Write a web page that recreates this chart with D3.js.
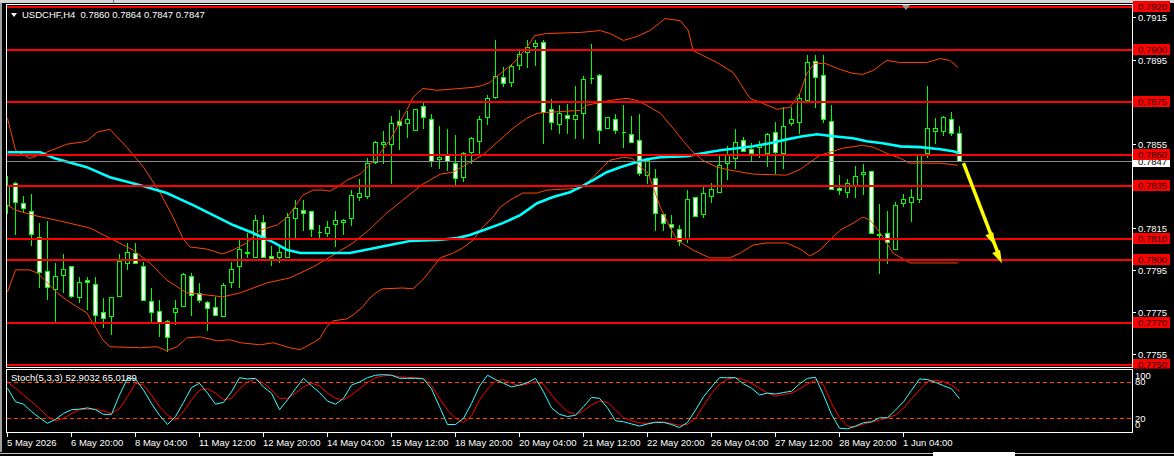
<!DOCTYPE html>
<html><head><meta charset="utf-8">
<script src="https://cdn.jsdelivr.net/npm/d3@7"></script>
<style>html,body{margin:0;padding:0;background:#000;overflow:hidden}svg{display:block}text{font-family:"Liberation Sans",Arial,sans-serif;font-size:9.5px}</style>
</head><body>
<svg id="c" width="1174" height="456"></svg>
<script>
// ---------- DATA ----------
const symbolTitle = "USDCHF,H4  0.7860 0.7864 0.7847 0.7847";
const stochTitle = "Stoch(5,3,3) 52.9032 65.0189";
const opens = [0.78261,0.78365,0.78270,0.78232,0.78109,0.77943,0.77858,0.77924,0.77967,0.77820,
0.77901,0.77882,0.77749,0.77730,0.77825,0.77981,0.78029,0.77967,0.77801,0.77754,
0.77706,0.77749,0.77777,0.77920,0.77839,0.77796,0.77773,0.77730,0.77891,0.77967,
0.78029,0.78014,0.78180,0.78019,0.78010,0.78010,0.78199,0.78237,0.78232,0.78133,
0.78128,0.78171,0.78180,0.78199,0.78299,0.78303,0.78464,0.78550,0.78550,0.78659,
0.78649,0.78616,0.78730,0.78668,0.78479,0.78498,0.78460,0.78393,0.78512,0.78564,
0.78678,0.78773,0.78867,0.78844,0.78924,0.78986,0.79014,0.79033,0.78716,0.78645,
0.78687,0.78668,0.78697,0.78863,0.78877,0.78626,0.78668,0.78607,0.78597,0.78569,
0.78403,0.78389,0.78218,0.78171,0.78147,0.78104,0.78299,0.78218,0.78303,0.78322,
0.78460,0.78483,0.78569,0.78526,0.78536,0.78507,0.78607,0.78507,0.78649,0.78654,
0.78758,0.78943,0.78877,0.78659,0.78341,0.78322,0.78355,0.78408,0.78422,0.78119,
0.78128,0.78048,0.78270,0.78275,0.78289,0.78507,0.78611,0.78611,0.78668,0.78600];
const highs = [0.78403,0.78374,0.78308,0.78318,0.78180,0.78190,0.77986,0.78029,0.77967,0.77920,
0.77920,0.77920,0.77820,0.77820,0.78029,0.78081,0.78081,0.77995,0.77867,0.77811,
0.77716,0.77811,0.77939,0.77939,0.77891,0.77806,0.77825,0.77891,0.77991,0.78104,
0.78133,0.78218,0.78218,0.78071,0.78062,0.78228,0.78289,0.78289,0.78232,0.78171,
0.78190,0.78237,0.78199,0.78337,0.78389,0.78488,0.78569,0.78616,0.78687,0.78716,
0.78711,0.78716,0.78758,0.78697,0.78640,0.78626,0.78597,0.78517,0.78588,0.78687,
0.78787,0.79047,0.78919,0.78934,0.78995,0.79047,0.79047,0.79047,0.78768,0.78739,
0.78744,0.78829,0.78877,0.79028,0.78886,0.78678,0.78697,0.78739,0.78687,0.78697,
0.78488,0.78436,0.78223,0.78218,0.78171,0.78337,0.78299,0.78360,0.78370,0.78507,
0.78545,0.78626,0.78588,0.78559,0.78569,0.78607,0.78659,0.78730,0.78730,0.78792,
0.78976,0.78976,0.78976,0.78739,0.78408,0.78389,0.78450,0.78460,0.78422,0.78270,
0.78237,0.78280,0.78318,0.78341,0.78498,0.78829,0.78678,0.78687,0.78706,0.78640];
const lows = [0.78223,0.78119,0.78228,0.78071,0.77867,0.77811,0.77706,0.77844,0.77820,0.77796,
0.77763,0.77706,0.77678,0.77645,0.77825,0.77953,0.77981,0.77806,0.77706,0.77635,
0.77564,0.77692,0.77777,0.77735,0.77796,0.77664,0.77735,0.77730,0.77867,0.77867,
0.78014,0.78014,0.78010,0.77976,0.77986,0.78010,0.78104,0.78142,0.78114,0.78104,
0.78114,0.78066,0.78123,0.78166,0.78284,0.78294,0.78460,0.78460,0.78365,0.78526,
0.78583,0.78616,0.78626,0.78446,0.78436,0.78427,0.78360,0.78374,0.78460,0.78502,
0.78645,0.78768,0.78825,0.78825,0.78905,0.78915,0.78924,0.78555,0.78621,0.78602,
0.78602,0.78578,0.78578,0.78839,0.78555,0.78626,0.78602,0.78536,0.78559,0.78403,
0.78365,0.78142,0.78142,0.78109,0.78071,0.78085,0.78209,0.78204,0.78275,0.78322,
0.78384,0.78436,0.78517,0.78474,0.78488,0.78446,0.78412,0.78436,0.78640,0.78602,
0.78758,0.78725,0.78654,0.78337,0.78313,0.78299,0.78299,0.78313,0.78128,0.77938,
0.77981,0.78048,0.78256,0.78185,0.78275,0.78488,0.78555,0.78592,0.78592,0.78470];
const closes = [0.78356,0.78275,0.78246,0.78119,0.77939,0.77867,0.77920,0.77957,0.77825,0.77891,
0.77891,0.77735,0.77720,0.77820,0.77991,0.78038,0.77981,0.77806,0.77749,0.77702,
0.77630,0.77768,0.77929,0.77830,0.77806,0.77768,0.77735,0.77877,0.77957,0.78048,
0.78038,0.78190,0.78010,0.78005,0.78038,0.78204,0.78246,0.78223,0.78147,0.78130,
0.78156,0.78190,0.78190,0.78308,0.78318,0.78460,0.78559,0.78559,0.78649,0.78640,
0.78668,0.78716,0.78678,0.78469,0.78488,0.78469,0.78389,0.78507,0.78578,0.78668,
0.78768,0.78872,0.78839,0.78919,0.78976,0.79009,0.79028,0.78701,0.78654,0.78697,
0.78673,0.78687,0.78858,0.78860,0.78616,0.78678,0.78616,0.78604,0.78559,0.78412,
0.78474,0.78223,0.78175,0.78156,0.78090,0.78289,0.78209,0.78318,0.78337,0.78450,
0.78498,0.78559,0.78517,0.78507,0.78545,0.78597,0.78512,0.78635,0.78668,0.78768,
0.78938,0.78867,0.78668,0.78337,0.78332,0.78365,0.78398,0.78417,0.78128,0.78116,
0.78081,0.78261,0.78289,0.78299,0.78498,0.78626,0.78626,0.78678,0.78602,0.78470];

// Bollinger bands & moving average, read at bar positions (bar index, price)
const upperBars = [0,1,2.8,4.9,7.4,9.9,11.2,12.8,14.9,17,19.1,20.7,21.9,22.8,24.9,26.9,28.2,29.9,31.6,33.7,35,36.9,38.2,39.4,40.3,41.6,42.4,44.1,46.2,47.8,49.9,50.7,51.9,53.7,56.6,58.2,59.4,60.3,61.6,63.2,64.9,65.9,67.4,71.6,74.1,75.3,77,78.7,80.3,82.2,84.1,85.1,85.7,86.9,88.7,90.7,91.6,92.8,94.4,96.2,97.8,99.1,99.9,100.9,102.2,104.1,105.7,106.9,108.2,109.9,111.6,114.9,116.6,117.8,118.8];
const upperVals = [0.78673,0.78521,0.78483,0.78512,0.78550,0.78564,0.78607,0.78621,0.78536,0.78441,0.78318,0.78204,0.78104,0.78062,0.78052,0.78029,0.78048,0.78081,0.78142,0.78166,0.78204,0.78308,0.78332,0.78332,0.78327,0.78355,0.78379,0.78408,0.78488,0.78569,0.78711,0.78773,0.78815,0.78806,0.78815,0.78820,0.78829,0.78844,0.78886,0.78934,0.79009,0.79066,0.79076,0.79081,0.79090,0.79076,0.79043,0.79062,0.79090,0.79147,0.79137,0.79090,0.78995,0.78972,0.78938,0.78891,0.78839,0.78768,0.78744,0.78716,0.78725,0.78796,0.78886,0.78934,0.78934,0.78905,0.78886,0.78882,0.78900,0.78948,0.78938,0.78938,0.78957,0.78948,0.78915];
const middleBars = [0,1,3.2,6.6,10.3,12.8,15.7,17.8,19.9,22.4,24.9,26.9,29.1,32.4,35.3,38.2,40.3,43.2,45.3,47.4,49.4,51.9,54.1,55.7,57.8,59.4,61.2,63.2,64.9,66.2,67.4,71.6,72.4,75.3,77.4,78.7,79.9,81.6,83.2,84.4,85.7,86.9,88.7,90.3,93.2,97.4,99.1,100.3,101.6,102.8,104.4,106.9,108.2,109.9,111.6,112.8,116.6,118.8];
const middleVals = [0.78261,0.78237,0.78213,0.78185,0.78152,0.78104,0.78047,0.77986,0.77905,0.77844,0.77834,0.77825,0.77844,0.77891,0.77915,0.77967,0.78014,0.78081,0.78147,0.78223,0.78284,0.78360,0.78408,0.78417,0.78464,0.78498,0.78559,0.78626,0.78673,0.78697,0.78701,0.78711,0.78735,0.78758,0.78768,0.78758,0.78735,0.78697,0.78626,0.78569,0.78512,0.78474,0.78441,0.78427,0.78408,0.78403,0.78431,0.78464,0.78498,0.78512,0.78531,0.78545,0.78536,0.78507,0.78483,0.78460,0.78460,0.78450];
const lowerBars = [0,1,2.8,3.7,4.9,6.2,7.4,8.7,9.9,11.2,11.9,12.8,16.6,18.7,19.9,21.2,22.4,24.1,26.2,27.8,29.1,31.6,33.2,35.3,36.6,38.2,39.1,39.9,40.7,42.4,43.2,44.4,45.3,46.2,46.9,49.4,50.7,51.9,53.2,54.1,55.7,56.9,58.2,59.4,60.7,61.6,62.8,64.4,66.2,67.4,71.6,72.4,73.2,74.4,75.3,77,78.1,79.1,80.1,80.7,81.6,82.8,83.7,85.7,87.8,90.3,91.6,93.2,94.9,97.4,99.1,100.3,101.6,102.8,104.1,105.7,106.9,107.8,109.1,110.7,112.8,118.8];
const lowerVals = [0.77848,0.77953,0.77953,0.77938,0.77896,0.77844,0.77810,0.77777,0.77749,0.77668,0.77621,0.77588,0.77583,0.77588,0.77569,0.77588,0.77630,0.77635,0.77616,0.77621,0.77607,0.77597,0.77607,0.77583,0.77574,0.77607,0.77630,0.77683,0.77711,0.77720,0.77739,0.77777,0.77820,0.77848,0.77863,0.77867,0.77863,0.77905,0.77967,0.78010,0.78033,0.78057,0.78095,0.78156,0.78204,0.78251,0.78284,0.78318,0.78318,0.78332,0.78341,0.78365,0.78393,0.78441,0.78474,0.78488,0.78483,0.78441,0.78412,0.78346,0.78251,0.78156,0.78095,0.78047,0.78010,0.78010,0.78033,0.78071,0.78081,0.78081,0.78052,0.78019,0.78048,0.78095,0.78142,0.78175,0.78204,0.78190,0.78128,0.78033,0.77986,0.77986];
const maBars = [0,4.1,5.9,9.9,12.8,16.6,19.9,23.2,25.7,28.2,30.7,33.2,35,36.6,42.8,45.3,47.8,50.3,53.7,56.2,57.8,59.9,61.9,64.1,66.2,68.2,70.3,71.6,73.2,74.9,76.6,78.2,79.9,81.6,84.9,86.9,89.1,91.2,93.2,95.3,97.4,99.4,101.2,103.2,105.7,107.4,109.4,111.6,114.1,116.6,118.2,119];
const maVals = [0.78512,0.78512,0.78483,0.78441,0.78393,0.78355,0.78318,0.78261,0.78213,0.78166,0.78128,0.78085,0.78047,0.78033,0.78033,0.78052,0.78071,0.78090,0.78095,0.78104,0.78119,0.78147,0.78175,0.78213,0.78270,0.78299,0.78322,0.78346,0.78379,0.78417,0.78441,0.78460,0.78479,0.78488,0.78493,0.78507,0.78521,0.78531,0.78540,0.78555,0.78573,0.78588,0.78597,0.78588,0.78578,0.78564,0.78555,0.78540,0.78536,0.78526,0.78517,0.78507];

// Stochastic (5,3,3)
const stochK = [70,48,44,32,22,13,19.5,29,35,36, 38,35,27.5,27.5,59,86,85,67,45,26,
11,24,47,71,78,62,44,47,64,87, 85,86,72,62,35,51,69,86,74,63,
49,44,53.5,75,80,87,91,92,91,86, 86,86,85,69,40,11,11,21,45,73.5,
91,84,78,72,75,79,86,64,38,27.5, 24,26,40,55,53.5,38,17,15.5,12,8.5,
12,14.5,14.5,11,6,14.5,34.5,56,72,87, 87,87,77,70,59,62,60.5,63,65,77,
86,87.5,59,27.5,5,4,8.5,14,15.5,22, 22,34.5,48,66.5,85,84,79.5,74,69,52.9032];
const stochD = [80,70,59,48,37,24,17,21,29,35, 36,36,33,29,37,56,78,75,59,40,
26,18,32,51,67,69,62,51,53.5,69, 80,85,78,67,53.5,53.5,62,72,78,74,
62,53.5,51,59,69,79,87,90,91,88.5, 87.5,87,86,74,53.5,34.5,21,14.5,25,51,
68.5,81.5,84,78,74,77,80.5,76,59,44, 32,27.5,33,43,49,47,34.5,22,17,13.5,
13,15,15,12.5,9.7,11.3,21,41.5,61.6,76, 85,87,84,78,70,62,57,60,61.6,69,
76.7,83.7,75,45.4,22,8.6,7,11.8,14.6,18.3, 22,26.4,37.3,52.9,67.5,80.4,83,80.4,75,65.0189];
const stochLevels = [80, 20];
const stochLabels = [100, 80, 20, 0];

// Levels and axis
const hLevels = [0.7920,0.7900,0.7875,0.7850,0.7835,0.7810,0.7800,0.7770,0.7750];
const priceTicks = [0.7915,0.7895,0.7875,0.7855,0.7835,0.7815,0.7795,0.7775,0.7755];
const lastPrice = 0.7847;
const timeTickBars = [0,8,16,24,32,40,48,56,64,72,80,88,96,104,112];
const timeTickLabels = ["5 May 2026","6 May 20:00","8 May 04:00","11 May 12:00","12 May 20:00","14 May 04:00","15 May 12:00","18 May 20:00","20 May 04:00","21 May 12:00","22 May 20:00","26 May 04:00","27 May 12:00","28 May 20:00","1 Jun 04:00"];
const arrowFrom = [119.5, 0.78460];
const arrowTo = [124.3, 0.77985];

// ---------- LAYOUT ----------
const W = 1174, H = 456;
const L = 6.5, R = 1132.5, mainTop = 4.5, mainBot = 367.5, stTop = 369.5, stBot = 432.5;
const svg = d3.select("#c");
const x = d3.scaleLinear().domain([0, 119]).range([7.5, 959.5]);
const y = d3.scaleLinear().domain([0.78, 0.79]).range([260, 49.5]);
const ys = d3.scaleLinear().domain([0, 100]).range([431.3, 369.7]);
const px = v => Math.round(v - 0.5) + 0.5;

svg.append("rect").attr("width", W).attr("height", H).attr("fill", "#000");
// window chrome
svg.append("rect").attr("x", 0).attr("y", 0).attr("width", W).attr("height", 3).attr("fill", "#d4d4d4");
svg.append("line").attr("x1", 113.5).attr("x2", 113.5).attr("y1", 0).attr("y2", 3).attr("stroke", "#707070");
svg.append("line").attr("x1", 1).attr("x2", 1).attr("y1", 3).attr("y2", 452).attr("stroke", "#a0a0a0").attr("stroke-width", 2);

const defs = svg.append("defs");
defs.append("clipPath").attr("id", "mc").append("rect").attr("x", 7).attr("y", 5).attr("width", R - 7).attr("height", mainBot - 5);
defs.append("clipPath").attr("id", "sc").append("rect").attr("x", 7).attr("y", stTop + 0.5).attr("width", R - 7).attr("height", stBot - stTop - 1);

const main = svg.append("g").attr("clip-path", "url(#mc)");

// candles
const gC = main.append("g");
opens.forEach((o, i) => {
  const c = closes[i], h = highs[i], l = lows[i];
  const cx = px(x(i));
  gC.append("line").attr("x1", cx).attr("x2", cx)
    .attr("y1", px(y(h))).attr("y2", px(y(l)) + 0.5)
    .attr("stroke", "#00ff00").attr("stroke-width", 1).attr("shape-rendering", "crispEdges");
  const t = px(y(Math.max(o, c))), b = px(y(Math.min(o, c)));
  gC.append("path").attr("d", `M${cx-2},${t}H${cx+2}V${b}H${cx-2}Z`)
    .attr("fill", c < o ? "#ffffff" : "#000000").attr("stroke", "#00ff00").attr("stroke-width", 1)
    .attr("shape-rendering", "crispEdges");
});

// bands and MA
const lineP = (bars, vals) => d3.line().x(d => x(d[0])).y(d => y(d[1]))(bars.map((b, i) => [b, vals[i]]));
[[upperBars, upperVals], [middleBars, middleVals], [lowerBars, lowerVals]].forEach(([b, v]) => {
  main.append("path").attr("d", lineP(b, v)).attr("fill", "none").attr("stroke", "#ff4500").attr("stroke-width", 1);
});
main.append("path").attr("d", lineP(maBars, maVals)).attr("fill", "none").attr("stroke", "#00ffff").attr("stroke-width", 2.6);

// horizontal levels
hLevels.forEach(v => {
  const yy = Math.round(y(v));
  main.append("line").attr("x1", 7).attr("x2", R).attr("y1", yy).attr("y2", yy)
    .attr("stroke", "#ff0000").attr("stroke-width", 2).attr("shape-rendering", "crispEdges");
});
// last price line
main.append("line").attr("x1", 7).attr("x2", R).attr("y1", px(y(lastPrice))).attr("y2", px(y(lastPrice)))
  .attr("stroke", "#8a8a8a").attr("stroke-width", 1).attr("shape-rendering", "crispEdges");

// arrow
{
  const x0 = x(arrowFrom[0]), y0 = y(arrowFrom[1]), x1 = x(arrowTo[0]), y1 = y(arrowTo[1]);
  const len = Math.hypot(x1 - x0, y1 - y0), ux = (x1 - x0) / len, uy = (y1 - y0) / len;
  const nx = -uy, ny = ux;
  const ga = main.append("g").attr("fill", "#ffff00");
  ga.append("line").attr("x1", x0).attr("y1", y0).attr("x2", x0 + ux * (len - 10)).attr("y2", y0 + uy * (len - 10))
    .attr("stroke", "#ffff00").attr("stroke-width", 3.5);
  [len - 19, len].forEach(t => {
    const tx = x0 + ux * t, ty = y0 + uy * t;
    const bx = tx - ux * 13, by = ty - uy * 13;
    ga.append("path").attr("d", `M${tx},${ty}L${bx + nx * 5.5},${by + ny * 5.5}L${bx - nx * 3},${by - ny * 3}Z`);
  });
}

// title
svg.append("path").attr("d", "M11,13L17,13L14,17Z").attr("fill", "#ffffff");
svg.append("text").attr("x", 22).attr("y", 18).attr("fill", "#ffffff").style("white-space", "pre").text(symbolTitle);
// shift marker
svg.append("path").attr("d", "M902,5L910,5L906,10Z").attr("fill", "#9a9a9a");

// price axis
priceTicks.forEach(v => {
  const yy = px(y(v));
  svg.append("line").attr("x1", R).attr("x2", R + 3).attr("y1", yy).attr("y2", yy).attr("stroke", "#ffffff").attr("shape-rendering", "crispEdges");
  svg.append("text").attr("x", 1138).attr("y", yy + 3.4).attr("fill", "#ffffff").text(v.toFixed(4));
});
// last price label
{
  const yy = y(lastPrice);
  svg.append("rect").attr("x", 1133).attr("y", Math.round(yy) - 5).attr("width", 37).attr("height", 11).attr("fill", "#ffffff");
  svg.append("text").attr("x", 1138).attr("y", Math.round(yy) + 3.5).attr("fill", "#000").text(lastPrice.toFixed(4));
}
hLevels.forEach(v => {
  const yy = Math.round(y(v));
  svg.append("rect").attr("x", 1133).attr("y", yy - 6).attr("width", 37).attr("height", 11).attr("fill", "#ff0000");
  svg.append("text").attr("x", 1138).attr("y", yy + 3).attr("fill", "#1a0000").text(v.toFixed(4));
});

// stochastic panel
svg.append("rect").attr("x", L).attr("y", stTop - 1).attr("width", R - L + 40).attr("height", 1.5).attr("fill", "#000");
const st = svg.append("g").attr("clip-path", "url(#sc)");
stochLevels.forEach(v => {
  st.append("line").attr("x1", 7).attr("x2", R).attr("y1", px(ys(v))).attr("y2", px(ys(v)))
    .attr("stroke", "#ff4500").attr("stroke-dasharray", "4,3").attr("shape-rendering", "crispEdges");
});
const sline = d3.line().x((d, i) => x(i)).y(d => ys(d));
st.append("path").attr("d", sline(stochD)).attr("fill", "none").attr("stroke", "#ff0000").attr("stroke-width", 1);
st.append("path").attr("d", sline(stochK)).attr("fill", "none").attr("stroke", "#33ffff").attr("stroke-width", 1);
svg.append("text").attr("x", 11).attr("y", 381).attr("fill", "#ffffff").text(stochTitle);
stochLabels.forEach(v => {
  const cy = Math.max(376, Math.min(425, ys(v)));
  svg.append("text").attr("x", 1135).attr("y", cy + 3.3).attr("fill", "#ffffff").text(v);
});

// frames
svg.append("rect").attr("x", L).attr("y", mainTop).attr("width", R - L).attr("height", mainBot - mainTop)
  .attr("fill", "none").attr("stroke", "#ffffff").attr("shape-rendering", "crispEdges");
svg.append("rect").attr("x", L).attr("y", stTop).attr("width", R - L).attr("height", stBot - stTop)
  .attr("fill", "none").attr("stroke", "#ffffff").attr("shape-rendering", "crispEdges");

// time axis
timeTickBars.forEach((b, i) => {
  const xx = px(x(b));
  svg.append("line").attr("x1", xx).attr("x2", xx).attr("y1", stBot).attr("y2", stBot + 4).attr("stroke", "#ffffff").attr("shape-rendering", "crispEdges");
  svg.append("text").attr("x", xx - 0.5).attr("y", 445.5).attr("fill", "#ffffff").text(timeTickLabels[i]);
});

// bottom chrome
svg.append("line").attr("x1", 0).attr("x2", W).attr("y1", 453.5).attr("y2", 453.5).attr("stroke", "#c8c8c8");
svg.append("rect").attr("x", 933).attr("y", 452).attr("width", 82).attr("height", 4).attr("fill", "#ffffff");
</script>
</body></html>
